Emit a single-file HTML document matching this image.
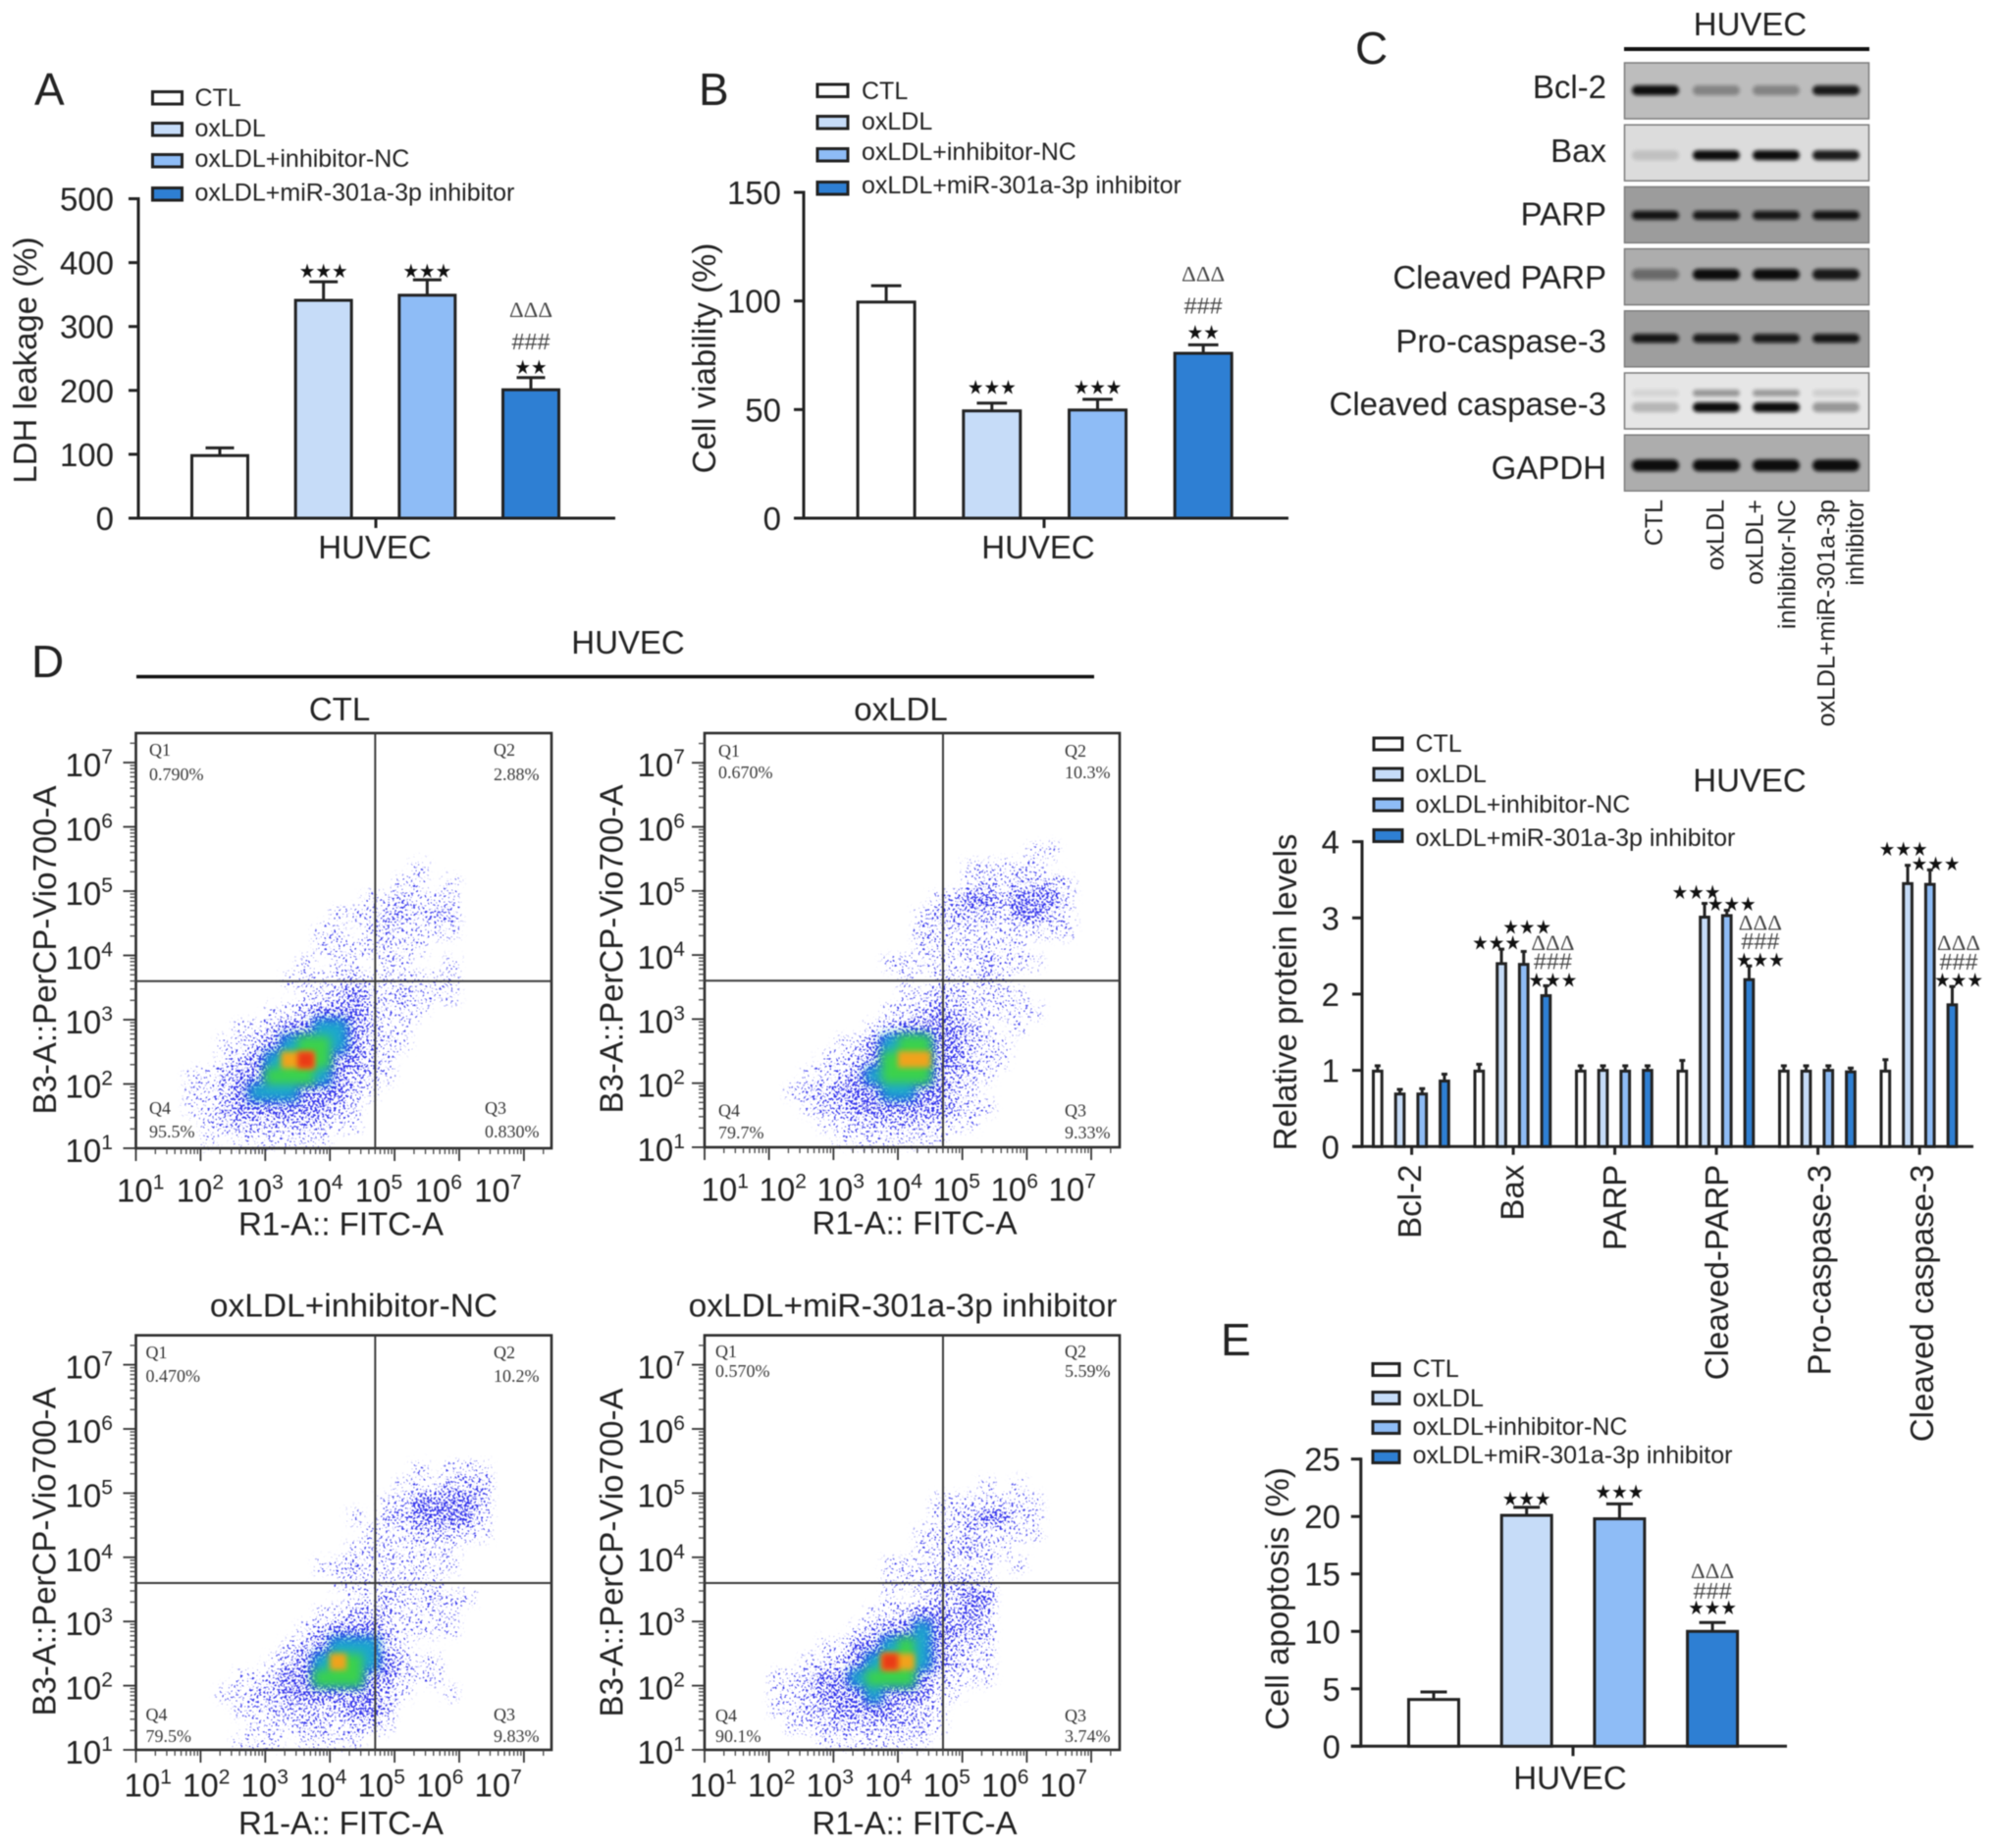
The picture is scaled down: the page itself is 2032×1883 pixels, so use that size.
<!DOCTYPE html>
<html lang="en">
<head>
<meta charset="utf-8">
<title>HUVEC apoptosis figure</title>
<style>
html,body{margin:0;padding:0;background:#fff;width:2032px;height:1883px;overflow:hidden}
svg{display:block;filter:blur(.45px)}
text{font-family:"Liberation Sans",sans-serif;fill:#222}
.lg{font-size:25px}
.big{font-size:33px}
.let{font-size:46px}
.blot{font-size:33px}
.rot{font-size:25px}
.sw{stroke:#222;stroke-width:3}
</style>
</head>
<body>
<svg id="fig" xmlns="http://www.w3.org/2000/svg" width="2032" height="1883" viewBox="0 0 2032 1883">
<defs>
<filter id="speck" x="-5%" y="-5%" width="110%" height="110%" color-interpolation-filters="sRGB">
<feGaussianBlur in="SourceGraphic" stdDeviation="4" result="b"/>
<feTurbulence type="fractalNoise" baseFrequency="0.42" numOctaves="2" seed="7" result="t"/>
<feColorMatrix in="t" type="matrix" values="0 0 0 0 0  0 0 0 0 0  0 0 0 0 0  2.4 0 0 0 -0.7" result="n"/>
<feComposite in="b" in2="n" operator="arithmetic" k1="0" k2="1" k3="1" k4="-1" result="m"/>
<feComponentTransfer in="m" result="s"><feFuncA type="linear" slope="6"/></feComponentTransfer>
<feFlood flood-color="#3434ec"/>
<feComposite in2="s" operator="in"/>
</filter>
<filter id="soft" x="-30%" y="-30%" width="160%" height="160%"><feGaussianBlur stdDeviation="5"/></filter>
<filter id="softer" x="-30%" y="-30%" width="160%" height="160%"><feGaussianBlur stdDeviation="3"/></filter>
<filter id="bandblur" x="-20%" y="-100%" width="140%" height="300%"><feGaussianBlur stdDeviation="1.8"/></filter>
</defs>

<!-- panel letters -->
<text class="let" x="35" y="107">A</text>
<text class="let" x="712" y="107">B</text>
<text class="let" x="1381" y="65">C</text>
<text class="let" x="32" y="690">D</text>
<text class="let" x="1244" y="1381">E</text>

<!-- panel A static -->
<g>
<rect class="sw" x="155.5" y="93.5" width="30" height="12.5" fill="#fff"/>
<rect class="sw" x="155.5" y="125.5" width="30" height="12.5" fill="#c6dcf8"/>
<rect class="sw" x="155.5" y="157.5" width="30" height="12.5" fill="#8ebcf6"/>
<rect class="sw" x="155.5" y="191.5" width="30" height="12.5" fill="#2e7fd3"/>
<text class="lg" x="198.5" y="108">CTL</text>
<text class="lg" x="198.5" y="139">oxLDL</text>
<text class="lg" x="198.5" y="170">oxLDL+inhibitor-NC</text>
<text class="lg" x="198.5" y="204.5">oxLDL+miR-301a-3p inhibitor</text>
</g>
<text class="big" transform="rotate(-90 37 367)" x="37" y="367" text-anchor="middle">LDH leakage (%)</text>
<text class="big" x="382" y="569" text-anchor="middle">HUVEC</text>

<!-- panel B static -->
<g>
<rect class="sw" x="833" y="86" width="31" height="12.5" fill="#fff"/>
<rect class="sw" x="833" y="118.5" width="31" height="12.5" fill="#c6dcf8"/>
<rect class="sw" x="833" y="151.5" width="31" height="12.5" fill="#8ebcf6"/>
<rect class="sw" x="833" y="185.5" width="31" height="12.5" fill="#2e7fd3"/>
<text class="lg" x="878" y="101">CTL</text>
<text class="lg" x="878" y="132">oxLDL</text>
<text class="lg" x="878" y="163">oxLDL+inhibitor-NC</text>
<text class="lg" x="878" y="197">oxLDL+miR-301a-3p inhibitor</text>
</g>
<text class="big" transform="rotate(-90 729 365)" x="729" y="365" text-anchor="middle">Cell viability (%)</text>
<text class="big" x="1058" y="569" text-anchor="middle">HUVEC</text>

<!-- panel C static -->
<text class="big" x="1783.5" y="36" text-anchor="middle">HUVEC</text>
<line x1="1655" y1="50" x2="1905" y2="50" stroke="#111" stroke-width="4"/>
<g text-anchor="end">
<text class="blot" x="1637" y="100">Bcl-2</text>
<text class="blot" x="1637" y="165">Bax</text>
<text class="blot" x="1637" y="229.5">PARP</text>
<text class="blot" x="1637" y="294">Cleaved PARP</text>
<text class="blot" x="1637" y="359">Pro-caspase-3</text>
<text class="blot" x="1637" y="423">Cleaved caspase-3</text>
<text class="blot" x="1637" y="488">GAPDH</text>
</g>
<g text-anchor="end">
<text class="rot" transform="rotate(-90 1694 509)" x="1694" y="509">CTL</text>
<text class="rot" transform="rotate(-90 1756.5 509)" x="1756.5" y="509">oxLDL</text>
<text class="rot" transform="rotate(-90 1796.5 509)" x="1796.5" y="509">oxLDL+</text>
<text class="rot" transform="rotate(-90 1829.5 509)" x="1829.5" y="509">inhibitor-NC</text>
<text class="rot" transform="rotate(-90 1869.5 509)" x="1869.5" y="509">oxLDL+miR-301a-3p</text>
<text class="rot" transform="rotate(-90 1899 509)" x="1899" y="509">inhibitor</text>
</g>

<!-- panel D static -->
<text class="big" x="640" y="666" text-anchor="middle">HUVEC</text>
<line x1="139" y1="689.5" x2="1115" y2="689.5" stroke="#111" stroke-width="3.5"/>
<text class="big" x="346" y="734" text-anchor="middle">CTL</text>
<text class="big" x="918" y="734" text-anchor="middle">oxLDL</text>
<text class="big" x="360.5" y="1341.5" text-anchor="middle" font-size="33.5" style="font-size:33.5px">oxLDL+inhibitor-NC</text>
<text class="big" x="920" y="1341.5" text-anchor="middle" font-size="33.5" style="font-size:33.5px">oxLDL+miR-301a-3p inhibitor</text>
<text class="big" x="347.5" y="1258.5" text-anchor="middle">R1-A:: FITC-A</text>
<text class="big" x="932" y="1257.5" text-anchor="middle">R1-A:: FITC-A</text>
<text class="big" x="347.5" y="1869" text-anchor="middle">R1-A:: FITC-A</text>
<text class="big" x="932" y="1869" text-anchor="middle">R1-A:: FITC-A</text>
<text class="big" transform="rotate(-90 57 968)" x="57" y="968" text-anchor="middle">B3-A::PerCP-Vio700-A</text>
<text class="big" transform="rotate(-90 634.6 967)" x="634.6" y="967" text-anchor="middle">B3-A::PerCP-Vio700-A</text>
<text class="big" transform="rotate(-90 56.6 1581)" x="56.6" y="1581" text-anchor="middle">B3-A::PerCP-Vio700-A</text>
<text class="big" transform="rotate(-90 634.6 1582)" x="634.6" y="1582" text-anchor="middle">B3-A::PerCP-Vio700-A</text>

<!-- protein chart static -->
<g>
<rect class="sw" x="1400" y="752" width="29" height="12" fill="#fff"/>
<rect class="sw" x="1400" y="783" width="29" height="12" fill="#c6dcf8"/>
<rect class="sw" x="1400" y="814" width="29" height="12" fill="#8ebcf6"/>
<rect class="sw" x="1400" y="845.5" width="29" height="12" fill="#2e7fd3"/>
<text class="lg" x="1442.5" y="766">CTL</text>
<text class="lg" x="1442.5" y="797">oxLDL</text>
<text class="lg" x="1442.5" y="828">oxLDL+inhibitor-NC</text>
<text class="lg" x="1442.5" y="862">oxLDL+miR-301a-3p inhibitor</text>
</g>
<text class="big" x="1783" y="806.5" text-anchor="middle">HUVEC</text>
<text class="big" transform="rotate(-90 1321 1011)" x="1321" y="1011" text-anchor="middle">Relative protein levels</text>

<!-- panel E static -->
<g>
<rect class="sw" x="1399" y="1389.5" width="27" height="12" fill="#fff"/>
<rect class="sw" x="1399" y="1418.5" width="27" height="12" fill="#c6dcf8"/>
<rect class="sw" x="1399" y="1448.5" width="27" height="12" fill="#8ebcf6"/>
<rect class="sw" x="1399" y="1478.5" width="27" height="12" fill="#2e7fd3"/>
<text class="lg" x="1439.6" y="1403">CTL</text>
<text class="lg" x="1439.6" y="1433">oxLDL</text>
<text class="lg" x="1439.6" y="1462">oxLDL+inhibitor-NC</text>
<text class="lg" x="1439.6" y="1491">oxLDL+miR-301a-3p inhibitor</text>
</g>
<text class="big" transform="rotate(-90 1313 1629)" x="1313" y="1629" text-anchor="middle">Cell apoptosis (%)</text>
<text class="big" x="1600" y="1823" text-anchor="middle">HUVEC</text>

<g id="dyn"></g>
</svg>

<script>
// ---------- single-group bar charts ----------
const groupNames = ['ctl', 'oxldl', 'inhibitor-nc', 'mir-inhibitor'];
const groupFills = ['#ffffff', '#c6dcf8', '#8ebcf6', '#2e7fd3'];

const ldhTicks = [0, 100, 200, 300, 400, 500];
const ldhValues = [98, 341, 349, 201];
const ldhErrors = [12, 29, 24, 19];
const ldhMarks = [[], ['★★★'], ['★★★'], ['★★', '###', 'ΔΔΔ']];

const viabilityTicks = [0, 50, 100, 150];
const viabilityValues = [99.5, 49.4, 49.8, 75.9];
const viabilityErrors = [7.5, 3.6, 4.9, 3.9];
const viabilityMarks = [[], ['★★★'], ['★★★'], ['★★', '###', 'ΔΔΔ']];

const apoptosisTicks = [0, 5, 10, 15, 20, 25];
const apoptosisValues = [4.07, 20.1, 19.8, 10];
const apoptosisErrors = [0.66, 0.7, 1.3, 0.77];
const apoptosisMarks = [[], ['★★★'], ['★★★'], ['★★★', '###', 'ΔΔΔ']];

// ---------- grouped protein chart ----------
const proteinCategories = ['Bcl-2', 'Bax', 'PARP', 'Cleaved-PARP', 'Pro-caspase-3', 'Cleaved caspase-3'];
const proteinTicks = [0, 1, 2, 3, 4];
const proteinCtl = [0.99, 0.99, 0.99, 0.99, 0.99, 0.99];
const proteinOx = [0.69, 2.40, 1.00, 3.01, 0.99, 3.45];
const proteinNc = [0.69, 2.39, 0.99, 3.03, 1.00, 3.44];
const proteinMi = [0.86, 1.98, 1.00, 2.19, 0.98, 1.86];
const proteinCtlErr = [0.07, 0.09, 0.07, 0.14, 0.07, 0.15];
const proteinOxErr = [0.06, 0.19, 0.06, 0.18, 0.07, 0.24];
const proteinNcErr = [0.07, 0.17, 0.07, 0.07, 0.06, 0.19];
const proteinMiErr = [0.09, 0.13, 0.06, 0.18, 0.05, 0.24];
const proteinOxMarks = [[], ['★★★'], [], ['★★★'], [], ['★★★']];
const proteinNcMarks = [[], ['★★★'], [], ['★★★'], [], ['★★★']];
const proteinMiMarks = [[], ['★★★', '###', 'ΔΔΔ'], [], ['★★★', '###', 'ΔΔΔ'], [], ['★★★', '###', 'ΔΔΔ']];

// ---------- western blot band densities (0..1), lanes CTL/oxLDL/NC/miR ----------
const blotNames = ['bcl2', 'bax', 'parp', 'cleaved-parp', 'pro-caspase', 'cleaved-caspase', 'gapdh'];
const blotBackground = ['#bdbdbd', '#dcdcdc', '#9c9c9c', '#adadad', '#9e9e9e', '#e6e6e6', '#adadad'];
const bcl2Bands = [1, 0.32, 0.32, 0.92];
const baxBands = [0.13, 1, 1, 0.92];
const parpBands = [0.95, 0.92, 0.92, 0.95];
const cleavedParpBands = [0.42, 1, 1, 0.92];
const proCaspaseBands = [0.95, 0.92, 0.92, 0.95];
const cleavedCaspaseBands = [0.22, 1, 1, 0.36];
const cleavedCaspaseUpperBands = [0.08, 0.36, 0.34, 0.1];
const gapdhBands = [1, 1, 1, 1];

// ---------- flow cytometry ----------
const decades = [1, 2, 3, 4, 5, 6, 7];
const ctlQuadrants = ['0.790%', '2.88%', '0.830%', '95.5%'];
const oxQuadrants = ['0.670%', '10.3%', '9.33%', '79.7%'];
const ncQuadrants = ['0.470%', '10.2%', '9.83%', '79.5%'];
const miQuadrants = ['0.570%', '5.59%', '3.74%', '90.1%'];

// density level per quarter-decade cell; rows from log y 5.5-5.75 (top) to 1-1.25 (bottom), columns from log x 1
const ctlDensity = [
[0,0,0,0,0,0,0,0,0,0,0,0,0,0,0,0,0,0,0,0,0,0,0,0],
[0,0,0,0,0,0,0,0,0,0,0,0,0,0,0,0,0,1,0,0,0,0,0,0],
[0,0,0,0,0,0,0,0,0,0,0,0,0,0,0,0,1,1,0,1,0,0,0,0],
[0,0,0,0,0,0,0,0,0,0,0,0,0,0,1,1,2,1,1,1,0,0,0,0],
[0,0,0,0,0,0,0,0,0,0,0,0,1,1,1,2,2,1,2,2,0,0,0,0],
[0,0,0,0,0,0,0,0,0,0,0,1,1,0,1,2,1,1,1,1,0,0,0,0],
[0,0,0,0,0,0,0,0,0,0,0,1,1,1,1,1,1,1,0,0,0,0,0,0],
[0,0,0,0,0,0,0,0,0,0,1,0,1,1,0,1,1,0,0,1,0,0,0,0],
[0,0,0,0,0,0,0,0,0,1,1,1,1,2,1,1,1,1,1,1,0,0,0,0],
[0,0,0,0,0,0,0,0,0,0,1,1,2,3,2,1,2,1,1,1,0,0,0,0],
[0,0,0,0,0,0,0,0,1,1,2,3,3,3,2,1,1,1,0,0,0,0,0,0],
[0,0,0,0,0,0,1,1,2,3,3,4,4,3,2,1,1,0,0,0,0,0,0,0],
[0,0,0,0,0,1,1,2,3,4,5,5,4,3,2,1,1,0,0,0,0,0,0,0],
[0,0,0,0,0,1,2,3,4,6,7,5,3,3,2,1,0,0,0,0,0,0,0,0],
[0,0,0,1,1,2,3,3,5,5,5,4,3,2,2,1,0,0,0,0,0,0,0,0],
[0,0,0,1,1,2,3,4,4,4,3,3,3,2,1,0,0,0,0,0,0,0,0,0],
[0,0,0,1,1,2,3,3,3,3,3,3,2,1,0,0,0,0,0,0,0,0,0,0],
[0,0,0,0,1,2,2,2,2,2,2,2,1,1,0,0,0,0,0,0,0,0,0,0],
[0,0,0,0,1,0,1,1,1,1,1,1,0,0,0,0,0,0,0,0,0,0,0,0]
];
const oxDensity = [
[0,0,0,0,0,0,0,0,0,0,0,0,0,0,0,0,0,0,0,0,1,1,0,0],
[0,0,0,0,0,0,0,0,0,0,0,0,0,0,0,0,1,1,1,1,1,0,0,0],
[0,0,0,0,0,0,0,0,0,0,0,0,0,0,0,0,1,2,1,2,2,2,1,0],
[0,0,0,0,0,0,0,0,0,0,0,0,0,0,1,2,3,3,2,3,3,3,1,0],
[0,0,0,0,0,0,0,0,0,0,0,0,0,1,2,2,2,2,1,3,3,2,1,0],
[0,0,0,0,0,0,0,0,0,0,0,0,0,2,1,1,1,1,1,1,1,1,1,0],
[0,0,0,0,0,0,0,0,0,0,0,0,0,1,1,1,1,1,1,1,0,0,0,0],
[0,0,0,0,0,0,0,0,0,0,0,1,1,1,1,1,1,2,1,1,1,0,0,0],
[0,0,0,0,0,0,0,0,0,0,0,0,1,0,1,1,1,2,1,0,0,0,0,0],
[0,0,0,0,0,0,0,0,0,0,0,0,1,1,2,2,1,1,1,1,0,0,0,0],
[0,0,0,0,0,0,0,0,0,0,0,1,1,2,3,2,1,1,1,1,1,0,0,0],
[0,0,0,0,0,0,0,0,0,0,1,2,3,3,3,3,2,1,0,1,0,0,0,0],
[0,0,0,0,0,0,0,0,1,1,3,4,5,5,3,3,2,1,1,0,0,0,0,0],
[0,0,0,0,0,0,0,1,1,2,3,5,6,6,3,3,2,1,1,0,0,0,0,0],
[0,0,0,0,0,0,1,1,2,3,4,5,5,5,3,2,2,1,0,0,0,0,0,0],
[0,0,0,0,0,1,2,2,3,3,3,4,4,3,3,2,1,0,0,0,0,0,0,0],
[0,0,0,0,0,0,1,2,2,3,3,3,3,3,3,2,1,1,0,0,0,0,0,0],
[0,0,0,0,0,0,0,1,1,2,2,2,2,2,2,1,1,0,0,0,0,0,0,0],
[0,0,0,0,0,0,0,0,1,1,1,1,1,1,1,0,0,0,0,0,0,0,0,0]
];
const ncDensity = [
[0,0,0,0,0,0,0,0,0,0,0,0,0,0,0,0,0,0,0,0,0,0,0,0],
[0,0,0,0,0,0,0,0,0,0,0,0,0,0,0,0,0,1,0,1,1,1,0,0],
[0,0,0,0,0,0,0,0,0,0,0,0,0,0,0,0,1,1,1,2,2,2,0,0],
[0,0,0,0,0,0,0,0,0,0,0,0,0,0,0,1,1,3,3,3,3,2,0,0],
[0,0,0,0,0,0,0,0,0,0,0,0,0,1,0,2,2,3,3,3,3,1,0,0],
[0,0,0,0,0,0,0,0,0,0,0,0,0,0,1,1,1,2,2,2,1,1,0,0],
[0,0,0,0,0,0,0,0,0,0,0,0,0,1,1,1,1,1,1,1,0,0,0,0],
[0,0,0,0,0,0,0,0,0,0,0,1,1,2,1,1,1,1,1,1,0,0,0,0],
[0,0,0,0,0,0,0,0,0,0,0,0,1,1,1,1,1,1,1,0,0,0,0,0],
[0,0,0,0,0,0,0,0,0,0,0,0,0,1,1,2,1,1,2,1,1,0,0,0],
[0,0,0,0,0,0,0,0,0,0,0,1,1,2,2,2,1,1,1,1,0,0,0,0],
[0,0,0,0,0,0,0,0,0,0,1,2,3,3,3,2,1,1,1,1,0,0,0,0],
[0,0,0,0,0,0,0,0,0,1,2,3,4,4,4,2,1,0,0,0,0,0,0,0],
[0,0,0,0,0,0,0,0,1,2,3,4,6,5,4,3,2,1,1,0,0,0,0,0],
[0,0,0,0,0,0,1,1,2,3,3,5,5,5,3,3,1,1,1,0,0,0,0,0],
[0,0,0,0,0,1,1,2,2,3,3,3,3,3,3,2,1,0,0,1,0,0,0,0],
[0,0,0,0,0,0,1,1,2,2,2,2,2,3,3,2,0,0,0,0,0,0,0,0],
[0,0,0,0,0,0,0,1,1,1,2,2,1,2,2,1,0,0,0,0,0,0,0,0],
[0,0,0,0,0,0,1,1,1,0,1,1,1,1,0,0,0,0,0,0,0,0,0,0]
];
const miDensity = [
[0,0,0,0,0,0,0,0,0,0,0,0,0,0,0,0,0,0,0,0,0,0,0,0],
[0,0,0,0,0,0,0,0,0,0,0,0,0,0,0,0,0,0,0,0,0,0,0,0],
[0,0,0,0,0,0,0,0,0,0,0,0,0,0,0,0,0,1,0,1,0,0,0,0],
[0,0,0,0,0,0,0,0,0,0,0,0,0,0,1,1,1,1,1,1,1,0,0,0],
[0,0,0,0,0,0,0,0,0,0,0,0,0,0,1,1,2,3,3,1,1,0,0,0],
[0,0,0,0,0,0,0,0,0,0,0,0,0,1,1,1,2,1,1,1,1,0,0,0],
[0,0,0,0,0,0,0,0,0,0,0,0,0,1,1,2,2,1,1,0,0,0,0,0],
[0,0,0,0,0,0,0,0,0,0,0,1,1,1,1,1,1,1,0,1,0,0,0,0],
[0,0,0,0,0,0,0,0,0,0,0,1,1,1,2,2,2,1,0,0,0,0,0,0],
[0,0,0,0,0,0,0,0,0,0,0,1,0,1,2,2,3,3,0,0,0,0,0,0],
[0,0,0,0,0,0,0,0,0,0,1,1,2,3,3,2,3,2,0,0,0,0,0,0],
[0,0,0,0,0,0,0,0,0,1,2,3,3,4,3,3,2,2,0,0,0,0,0,0],
[0,0,0,0,0,0,0,1,1,3,3,4,5,4,3,2,2,1,0,0,0,0,0,0],
[0,0,0,0,0,0,1,1,2,3,4,7,6,4,3,2,1,1,0,0,0,0,0,0],
[0,0,0,0,1,1,2,3,3,4,5,5,5,3,2,1,1,1,0,0,0,0,0,0],
[0,0,0,0,1,1,2,3,3,3,4,3,3,3,1,1,0,0,0,0,0,0,0,0],
[0,0,0,0,1,1,2,2,3,3,3,3,2,2,1,0,0,0,0,0,0,0,0,0],
[0,0,0,0,0,1,1,2,2,2,2,2,2,2,1,0,0,0,0,0,0,0,0,0],
[0,0,0,0,0,0,0,1,1,1,1,1,1,1,0,0,0,0,0,0,0,0,0,0]
];

// ---------- layout (not data) ----------
const NS = 'http://www.w3.org/2000/svg';
const dyn = document.getElementById('dyn');
function mk(parent, tag, attrs, name) {
  const el = document.createElementNS(NS, tag);
  for (const k in attrs) el.setAttribute(k, attrs[k]);
  
  
  parent.appendChild(el);
  return el;
}
function label(parent, str, x, y, size, name, extra) {
  const el = mk(parent, 'text', Object.assign({x: x, y: y, 'font-size': size}, extra || {}), name);
  el.textContent = str;
  return el;
}
function markStyle(str) {
  if (str.indexOf('★') >= 0) return {size: 20, font: '"DejaVu Sans",sans-serif', fill: '#111', w: 16.6 * str.length, dy: 7};
  if (str.indexOf('#') >= 0) return {size: 23, font: '"Liberation Sans",sans-serif', fill: '#444', w: 13 * str.length, dy: 8};
  return {size: 22, font: '"Liberation Serif",serif', fill: '#444', w: 14.7 * str.length, dy: 7};
}
function drawMark(parent, str, cx, cy) {
  const s = markStyle(str);
  const el = label(parent, str, cx, cy + s.dy, s.size, 'significance-mark', {
    'text-anchor': 'middle', textLength: s.w, lengthAdjust: 'spacingAndGlyphs'
  });
  el.style.fontFamily = s.font;
  el.style.fill = s.fill;
}
function drawYAxis(g, cfg, yOf) {
  mk(g, 'line', {x1: cfg.axisX, x2: cfg.axisX, y1: yOf(cfg.ticks[cfg.ticks.length - 1]) - 1.5, y2: cfg.y0 + 1.5, stroke: '#222', 'stroke-width': 3}, 'y-axis');
  cfg.ticks.forEach(function (t) {
    mk(g, 'line', {x1: cfg.axisX - 10, x2: cfg.axisX, y1: yOf(t), y2: yOf(t), stroke: '#222', 'stroke-width': 3}, 'y-tick');
    label(g, String(t), cfg.labelRight, yOf(t) + 12, 33, 'y-tick-label', {'text-anchor': 'end'});
  });
  mk(g, 'line', {x1: cfg.axisX - 10, x2: cfg.xEnd, y1: cfg.y0, y2: cfg.y0, stroke: '#222', 'stroke-width': 3}, 'x-axis');
}
function drawBar(g, x, w, y0, yv, yt, fill, cap, name) {
  const cx = x + w / 2;
  mk(g, 'line', {x1: cx, x2: cx, y1: yt, y2: yv, stroke: '#222', 'stroke-width': 3}, name + '-error-bar');
  mk(g, 'line', {x1: cx - cap / 2, x2: cx + cap / 2, y1: yt, y2: yt, stroke: '#222', 'stroke-width': 3}, name + '-error-cap');
  mk(g, 'rect', {x: x + 1.5, y: yv, width: w - 3, height: y0 - yv, fill: fill, stroke: '#222', 'stroke-width': 3}, name);
}
function barChart(cfg) {
  const g = mk(dyn, 'g', {}, cfg.name);
  const max = cfg.ticks[cfg.ticks.length - 1];
  const yOf = function (v) { return cfg.y0 - v / max * (cfg.y0 - cfg.yTop); };
  drawYAxis(g, cfg, yOf);
  mk(g, 'line', {x1: cfg.tickX, x2: cfg.tickX, y1: cfg.y0, y2: cfg.y0 + 10, stroke: '#222', 'stroke-width': 3}, 'x-tick');
  cfg.values.forEach(function (v, i) {
    const x = cfg.left + i * cfg.step;
    const top = yOf(v + cfg.errors[i]);
    drawBar(g, x, cfg.width, cfg.y0, yOf(v), top, groupFills[i], cfg.cap, 'bar-' + groupNames[i]);
    let y = top - cfg.gaps[i];
    cfg.marks[i].forEach(function (m, k) {
      drawMark(g, m, x + cfg.width / 2, y);
      y -= cfg.spacing[k] || 0;
    });
  });
}
barChart({name: 'ldh-chart', ticks: ldhTicks, values: ldhValues, errors: ldhErrors, marks: ldhMarks,
  y0: 528, yTop: 202.5, axisX: 141, labelRight: 116, xEnd: 627, tickX: 383, left: 194, step: 105.67, width: 60, cap: 29,
  gaps: [0, 11, 9, 11], spacing: [26, 32]});
barChart({name: 'viability-chart', ticks: viabilityTicks, values: viabilityValues, errors: viabilityErrors, marks: viabilityMarks,
  y0: 528, yTop: 196, axisX: 819, labelRight: 796, xEnd: 1313, tickX: 1064, left: 872.6, step: 107.7, width: 61, cap: 30.7,
  gaps: [0, 16, 12.6, 13], spacing: [27, 32]});
barChart({name: 'apoptosis-chart', ticks: apoptosisTicks, values: apoptosisValues, errors: apoptosisErrors, marks: apoptosisMarks,
  y0: 1779.3, yTop: 1486.7, axisX: 1386.8, labelRight: 1366, xEnd: 1821, tickX: 1603, left: 1434, step: 94.7, width: 54, cap: 27,
  gaps: [0, 9, 12.4, 15], spacing: [17, 20]});

// grouped chart
(function () {
  const g = mk(dyn, 'g', {}, 'protein-chart');
  const cfg = {ticks: proteinTicks, y0: 1168.3, axisX: 1388, labelRight: 1365, xEnd: 2011};
  const yOf = function (v) { return 1168.3 - v * 77.67; };
  drawYAxis(g, cfg, yOf);
  const series = [proteinCtl, proteinOx, proteinNc, proteinMi];
  const errs = [proteinCtlErr, proteinOxErr, proteinNcErr, proteinMiErr];
  const nudgeOx = {1: [-5, 6.5], 3: [-8.5, 11.5], 5: [-4.4, 16.7]};
  const nudgeNc = {1: [3.4, 25], 3: [5, 6.5], 5: [5.8, 6.4]};
  const nudgeMi = {1: [7, 6], 3: [11.4, 6.3], 5: [6.6, 6.7]};
  proteinCategories.forEach(function (cat, c) {
    const gx = 1398 + c * 103.5;
    const tickX = 1438.6 + c * 103.5;
    mk(g, 'line', {x1: tickX, x2: tickX, y1: 1168.3, y2: 1176.7, stroke: '#222', 'stroke-width': 3}, 'x-tick');
    const baseX = 1448 + c * 104.4;
    label(g, cat, baseX, 1186.7, 33, 'x-tick-label', {'text-anchor': 'end', transform: 'rotate(-90 ' + baseX + ' 1186.7)'});
    series.forEach(function (s, i) {
      const x = gx + i * 22.7;
      const top = yOf(s[c] + errs[i][c]);
      drawBar(g, x, 11.7, 1168.3, yOf(s[c]), top, groupFills[i], 6, 'bar-' + groupNames[i]);
      const marks = [[], proteinOxMarks, proteinNcMarks, proteinMiMarks][i][c] || [];
      const nudge = [{}, nudgeOx, nudgeNc, nudgeMi][i][c];
      if (marks.length) {
        let y = top - nudge[1];
        marks.forEach(function (m) {
          drawMark(g, m, x + 5.85 + nudge[0], y);
          y -= 18.7;
        });
      }
    });
  });
})();

// western blots
(function () {
  const g = mk(dyn, 'g', {}, 'western-blot');
  const rows = [bcl2Bands, baxBands, parpBands, cleavedParpBands, proCaspaseBands, cleavedCaspaseBands, gapdhBands];
  const offset = [28, 31, 29, 26, 28, 35, 31];
  const thick = [10, 10, 9, 11, 9, 10, 12];
  const laneLeft = [1663, 1725, 1786, 1847];
  rows.forEach(function (bands, r) {
    const top = 64 + r * 63.2;
    mk(g, 'rect', {x: 1655.5, y: top, width: 249, height: 57, fill: blotBackground[r], stroke: '#7d7d7d', 'stroke-width': 1.5}, 'blot-' + blotNames[r]);
    bands.forEach(function (d, l) {
      mk(g, 'rect', {x: laneLeft[l], y: top + offset[r] - thick[r] / 2, width: 48, height: thick[r], rx: thick[r] / 2, fill: '#080808', opacity: d, filter: 'url(#bandblur)'}, 'blot-band');
    });
    if (r === 5) {
      cleavedCaspaseUpperBands.forEach(function (d, l) {
        mk(g, 'rect', {x: laneLeft[l], y: top + 17, width: 48, height: 7, rx: 3.5, fill: '#080808', opacity: d, filter: 'url(#bandblur)'}, 'blot-band-upper');
      });
    }
  });
})();

// flow plots
function flowPlot(L, density, quadrants, key) {
  const g = mk(dyn, 'g', {}, 'flow-plot-' + key);
  const X = function (lg) { return L.x0 + (lg - 1) * L.xStep; };
  const Y = function (lg) { return L.y1 - (lg - 1) * L.yStep; };
  const alpha = [0, 0.2, 0.34, 0.52, 0.85, 1, 1, 1];
  const nRows = density.length;
  const speck = mk(g, 'g', {filter: 'url(#speck)'}, 'flow-events');
  density.forEach(function (row, ri) {
    const r = nRows - 1 - ri;
    row.forEach(function (lev, c) {
      if (!lev) return;
      mk(speck, 'rect', {x: X(1 + c * 0.25), y: Y(1 + (r + 1) * 0.25), width: L.xStep / 4 + 0.4, height: L.yStep / 4 + 0.4, fill: '#000', 'fill-opacity': alpha[lev]}, 'density-cell');
    });
  });
  const heat = [[4, '#1ba6cf', 'soft'], [5, '#3bd24c', 'soft'], [6, '#f0a31c', 'softer'], [7, '#ea3a14', 'softer']];
  heat.forEach(function (h) {
    const layer = mk(g, 'g', {filter: 'url(#' + h[2] + ')'}, 'density-level-' + h[0]);
    density.forEach(function (row, ri) {
      const r = nRows - 1 - ri;
      row.forEach(function (lev, c) {
        if (lev < h[0]) return;
        mk(layer, 'rect', {x: X(1 + c * 0.25), y: Y(1 + (r + 1) * 0.25), width: L.xStep / 4 + 0.4, height: L.yStep / 4 + 0.4, fill: h[1]}, 'density-cell');
      });
    });
  });
  mk(g, 'rect', {x: L.x0, y: L.y0, width: L.x1 - L.x0, height: L.y1 - L.y0, fill: 'none', stroke: '#2c2c2c', 'stroke-width': 2.6}, 'plot-frame');
  mk(g, 'line', {x1: X(4.7), x2: X(4.7), y1: L.y0, y2: L.y1, stroke: '#3a3a3a', 'stroke-width': 2}, 'gate-vertical');
  mk(g, 'line', {x1: L.x0, x2: L.x1, y1: Y(3.6), y2: Y(3.6), stroke: '#3a3a3a', 'stroke-width': 2}, 'gate-horizontal');
  const minors = [2, 3, 4, 5, 6, 7, 8, 9];
  decades.forEach(function (d, i) {
    mk(g, 'line', {x1: X(d), x2: X(d), y1: L.y1, y2: L.y1 + 13, stroke: '#333', 'stroke-width': 1.8}, 'x-major-tick');
    mk(g, 'line', {x1: L.x0 - 13, x2: L.x0, y1: Y(d), y2: Y(d), stroke: '#333', 'stroke-width': 1.8}, 'y-major-tick');
    minors.forEach(function (m) {
      const lg = d + Math.log10(m);
      if (X(lg) < L.x1) mk(g, 'line', {x1: X(lg), x2: X(lg), y1: L.y1, y2: L.y1 + 6, stroke: '#444', 'stroke-width': 1.3}, 'x-minor-tick');
      if (Y(lg) > L.y0) mk(g, 'line', {x1: L.x0 - 6, x2: L.x0, y1: Y(lg), y2: Y(lg), stroke: '#444', 'stroke-width': 1.3}, 'y-minor-tick');
    });
    const tx = label(g, '10', L.labelStart - 1.5 + i * L.labelStep, L.labelY, 33, 'x-tick-label');
    const sx = document.createElementNS(NS, 'tspan');
    sx.setAttribute('dy', '-13');
    sx.setAttribute('font-size', '21');
    sx.textContent = String(d);
    tx.appendChild(sx);
    const ty = label(g, '10', L.yLabelX - 1.5, Y(d) + 14, 33, 'y-tick-label');
    const sy = document.createElementNS(NS, 'tspan');
    sy.setAttribute('dy', '-13');
    sy.setAttribute('font-size', '21');
    sy.textContent = String(d);
    ty.appendChild(sy);
  });
  const names = ['Q1', 'Q2', 'Q3', 'Q4'];
  const qx = [L.lx, L.rx2, L.rx3, L.lx];
  const qy1 = [L.ty1, L.ty1, L.by1, L.by1];
  const qy2 = [L.ty2, L.ty2, L.by2, L.by2];
  names.forEach(function (n, i) {
    const a = label(g, n, qx[i], qy1[i] - 1, 18, 'quadrant-name');
    a.style.fontFamily = '"Liberation Serif",serif';
    a.style.fill = '#333';
    const b = label(g, quadrants[i], qx[i], qy2[i] - 1, 18, 'quadrant-percent');
    b.style.fontFamily = '"Liberation Serif",serif';
    b.style.fill = '#3a3a3a';
  });
}
flowPlot({x0: 138.5, x1: 562, y0: 747, y1: 1170, xStep: 65.9, yStep: 65.5, labelStart: 120.5, labelStep: 60.7, labelY: 1224.6, yLabelX: 68, lx: 152, rx2: 503, rx3: 494, ty1: 771, ty2: 796, by1: 1136, by2: 1160}, ctlDensity, ctlQuadrants, 'ctl');
flowPlot({x0: 718, x1: 1141, y0: 747, y1: 1169, xStep: 65.67, yStep: 65.3, labelStart: 716, labelStep: 59, labelY: 1223.6, yLabelX: 651, lx: 732, rx2: 1085, rx3: 1085, ty1: 772, ty2: 794, by1: 1138.6, by2: 1161}, oxDensity, oxQuadrants, 'oxldl');
flowPlot({x0: 138.5, x1: 562, y0: 1360.6, y1: 1783, xStep: 65.9, yStep: 65.4, labelStart: 128, labelStep: 59.5, labelY: 1830.6, yLabelX: 68, lx: 148.5, rx2: 503, rx3: 503, ty1: 1385, ty2: 1409, by1: 1754, by2: 1776}, ncDensity, ncQuadrants, 'inhibitor-nc');
flowPlot({x0: 718, x1: 1141, y0: 1360.6, y1: 1783, xStep: 65.67, yStep: 65.4, labelStart: 704, labelStep: 59.5, labelY: 1830.6, yLabelX: 651, lx: 729, rx2: 1085, rx3: 1085, ty1: 1384, ty2: 1404, by1: 1755, by2: 1776}, miDensity, miQuadrants, 'mir-inhibitor');
</script>
</body>
</html>
